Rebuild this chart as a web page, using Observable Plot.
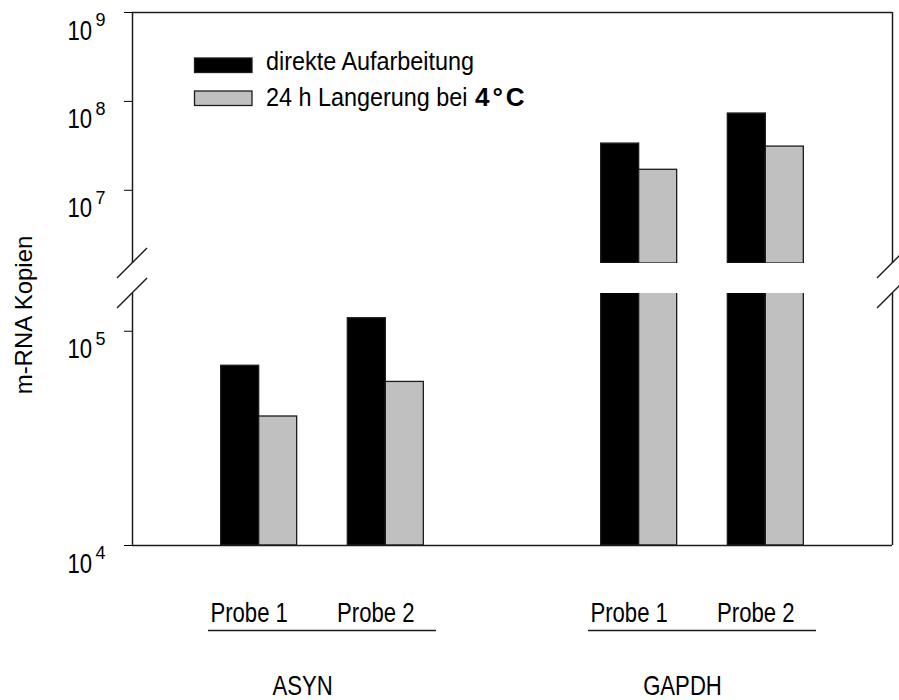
<!DOCTYPE html>
<html>
<head>
<meta charset="utf-8">
<script src="https://cdn.jsdelivr.net/npm/d3@7"></script>
<script src="https://cdn.jsdelivr.net/npm/@observablehq/plot@0.6"></script>
<style>
  body { margin: 0; background: #fff; }
  #chart { position: relative; width: 899px; height: 700px; overflow: hidden; background: #fff; color: #000; }
  #chart > svg { position: absolute; left: 0; }
</style>
</head>
<body>
<div id="chart"></div>
<script>
// mRNA copy numbers per gene and sample, for the two processing conditions
const genes = ["ASYN", "GAPDH"];
const probes = ["Probe 1", "Probe 2"];
const treatments = ["direkte Aufarbeitung", "24 h Langerung bei 4°C"];
const directValues = [[69000, 115000], [33500000, 73000000]];
const storedValues = [[40000, 58000], [17000000, 31000000]];
const upperTicks = [1e7, 1e8, 1e9];
const lowerTicks = [1e4, 1e5];
const axisBreak = [1.5e5, 1.5e6]; // the y axis jumps from the first to the second value

const ink = "#1c1c1c";
// Arial-Narrow look: regular face, squeezed horizontally after layout
const narrow = "'Liberation Sans', Arial, sans-serif, Narrow";
const regular = "'Liberation Sans', Arial, sans-serif";
const barWidth = 0.3;                      // in slot units
const slotCount = genes.length * 3;        // two samples + one spacer per gene
const xDomain = [0, slotCount];

// one row per bar
const bars = [];
const samples = [];
genes.forEach((gene, gi) => {
  probes.forEach((probe, pi) => {
    const slot = gi * 3 + pi + 1;
    samples.push({gene, probe, slot});
    bars.push({gene, probe, slot, treatment: treatments[0], value: directValues[gi][pi], x1: slot - barWidth, x2: slot});
    bars.push({gene, probe, slot, treatment: treatments[1], value: storedValues[gi][pi], x1: slot, x2: slot + barWidth});
  });
});
const geneGroups = genes.map((gene) => {
  const slots = samples.filter((s) => s.gene === gene).map((s) => s.slot);
  return {gene, first: d3.min(slots), last: d3.max(slots)};
});

const colorScale = {domain: treatments, range: ["#000000", "#c0c0c0"]};

// diagonal break marks where the y axis is interrupted
const breakMarks = (yValue) => (index, scales) => {
  const g = d3.create("svg:g").attr("stroke", ink).attr("stroke-width", 1.4).attr("fill", "none");
  for (const xv of xDomain) {
    const cx = scales.x(xv), cy = scales.y(yValue);
    g.append("line").attr("x1", cx - 15).attr("y1", cy + 15).attr("x2", cx + 15).attr("y2", cy - 15);
  }
  return g.node();
};

const tickLabels = (ticks) => [
  Plot.text(ticks, {y: (d) => d, text: () => "10", frameAnchor: "left", dx: -65, dy: 27,
    textAnchor: "start", lineAnchor: "bottom", fontSize: 27, fontFamily: narrow, fill: "#000"}),
  Plot.text(ticks, {y: (d) => d, text: (d) => String(Math.round(Math.log10(d))), frameAnchor: "left", dx: -37, dy: 13.5,
    textAnchor: "start", lineAnchor: "bottom", fontSize: 18, fontFamily: regular, fill: "#000"})
];

const barStyle = {x1: "x1", x2: "x2", y2: "value", fill: "treatment", stroke: ink, strokeWidth: 1.3, clip: true};

// upper segment: 1.5·10^6 … 10^9
const upper = Plot.plot({
  width: 899, height: 283,
  marginLeft: 132, marginRight: 7, marginTop: 12, marginBottom: 20,
  style: {background: "transparent", overflow: "visible"},
  x: {domain: xDomain, axis: null},
  y: {type: "log", domain: [axisBreak[1], 1e9], ticks: upperTicks, tickSize: 8, tickFormat: () => "", label: null},
  color: colorScale,
  marks: [
    Plot.rect(bars.filter((d) => d.value > axisBreak[1]), {...barStyle, y1: axisBreak[1]}),
    Plot.ruleY([1e9], {stroke: ink, strokeWidth: 1.5}),
    Plot.ruleX(xDomain, {stroke: ink, strokeWidth: 1.5}),
    breakMarks(axisBreak[1]),
    ...tickLabels(upperTicks)
  ]
});

// lower segment: 10^4 … 1.5·10^5, plus the sample and gene labels underneath
const lower = Plot.plot({
  width: 899, height: 427,
  marginLeft: 132, marginRight: 7, marginTop: 20, marginBottom: 155,
  style: {background: "transparent", overflow: "visible"},
  x: {domain: xDomain, axis: null},
  y: {type: "log", domain: [lowerTicks[0], axisBreak[0]], ticks: lowerTicks, tickSize: 8, tickFormat: () => "", label: null},
  color: colorScale,
  marks: [
    Plot.rect(bars, {...barStyle, y1: lowerTicks[0]}),
    Plot.ruleY([lowerTicks[0]], {stroke: ink, strokeWidth: 1.5}),
    Plot.ruleX(xDomain, {stroke: ink, strokeWidth: 1.5}),
    breakMarks(axisBreak[0]),
    ...tickLabels(lowerTicks),
    Plot.text(samples, {x: "slot", text: "probe", frameAnchor: "bottom", dx: -10, dy: 76,
      lineAnchor: "bottom", fontSize: 27, fontFamily: narrow, fill: "#000"}),
    Plot.ruleY(geneGroups, {y: lowerTicks[0], x1: (d) => d.first - 0.4, x2: (d) => d.last + 0.4,
      dy: 85, stroke: ink, strokeWidth: 1.5}),
    Plot.text(geneGroups, {x: (d) => (d.first + d.last) / 2, text: "gene", frameAnchor: "bottom", dx: -20, dy: 149,
      lineAnchor: "bottom", fontSize: 27, fontFamily: narrow, fill: "#000"})
  ]
});

const chart = document.getElementById("chart");
upper.style.top = "0px";
lower.style.top = "273px";
chart.append(upper, lower);

// legend and y-axis title
const overlay = d3.create("svg")
  .attr("width", 899).attr("height", 700)
  .style("position", "absolute").style("left", "0px").style("top", "0px")
  .style("font-family", regular);

const legend = overlay.append("g");
const swatchY = [58, 91];
treatments.forEach((t, i) => {
  legend.append("rect")
    .attr("x", 194.5).attr("y", swatchY[i]).attr("width", 57.5).attr("height", 14.5)
    .attr("fill", colorScale.range[i]).attr("stroke", ink).attr("stroke-width", 1.3);
});
const [plain, bold] = treatments[1].split(/ (?=4°C)/);
legend.append("text").attr("class", "squeeze-legend")
  .attr("transform", "translate(266,70)").attr("font-size", 26).text(treatments[0]);
legend.append("text").attr("class", "squeeze-legend")
  .attr("transform", "translate(266,106)").attr("font-size", 26).text(plain);
legend.append("text")
  .attr("transform", "translate(475,106)").attr("font-size", 26)
  .attr("font-weight", "bold").attr("letter-spacing", 3).text(bold);

overlay.append("text")
  .attr("transform", "translate(32,315) rotate(-90)")
  .attr("text-anchor", "middle").attr("font-size", 24)
  .text("m-RNA Kopien");

chart.append(overlay.node());

// squeeze a text horizontally about its anchor point
function squeezeText(el, k) {
  const x = +(el.getAttribute("x") || 0), y = +(el.getAttribute("y") || 0);
  el.removeAttribute("x");
  el.removeAttribute("y");
  const t = el.getAttribute("transform") || "";
  el.setAttribute("transform", `${t} translate(${x},${y}) scale(${k},1)`.trim());
}
chart.querySelectorAll("g[font-family*='Narrow'] text").forEach((el) => squeezeText(el, 0.82));
chart.querySelectorAll("text.squeeze-legend").forEach((el) => squeezeText(el, 0.9));
</script>
</body>
</html>
